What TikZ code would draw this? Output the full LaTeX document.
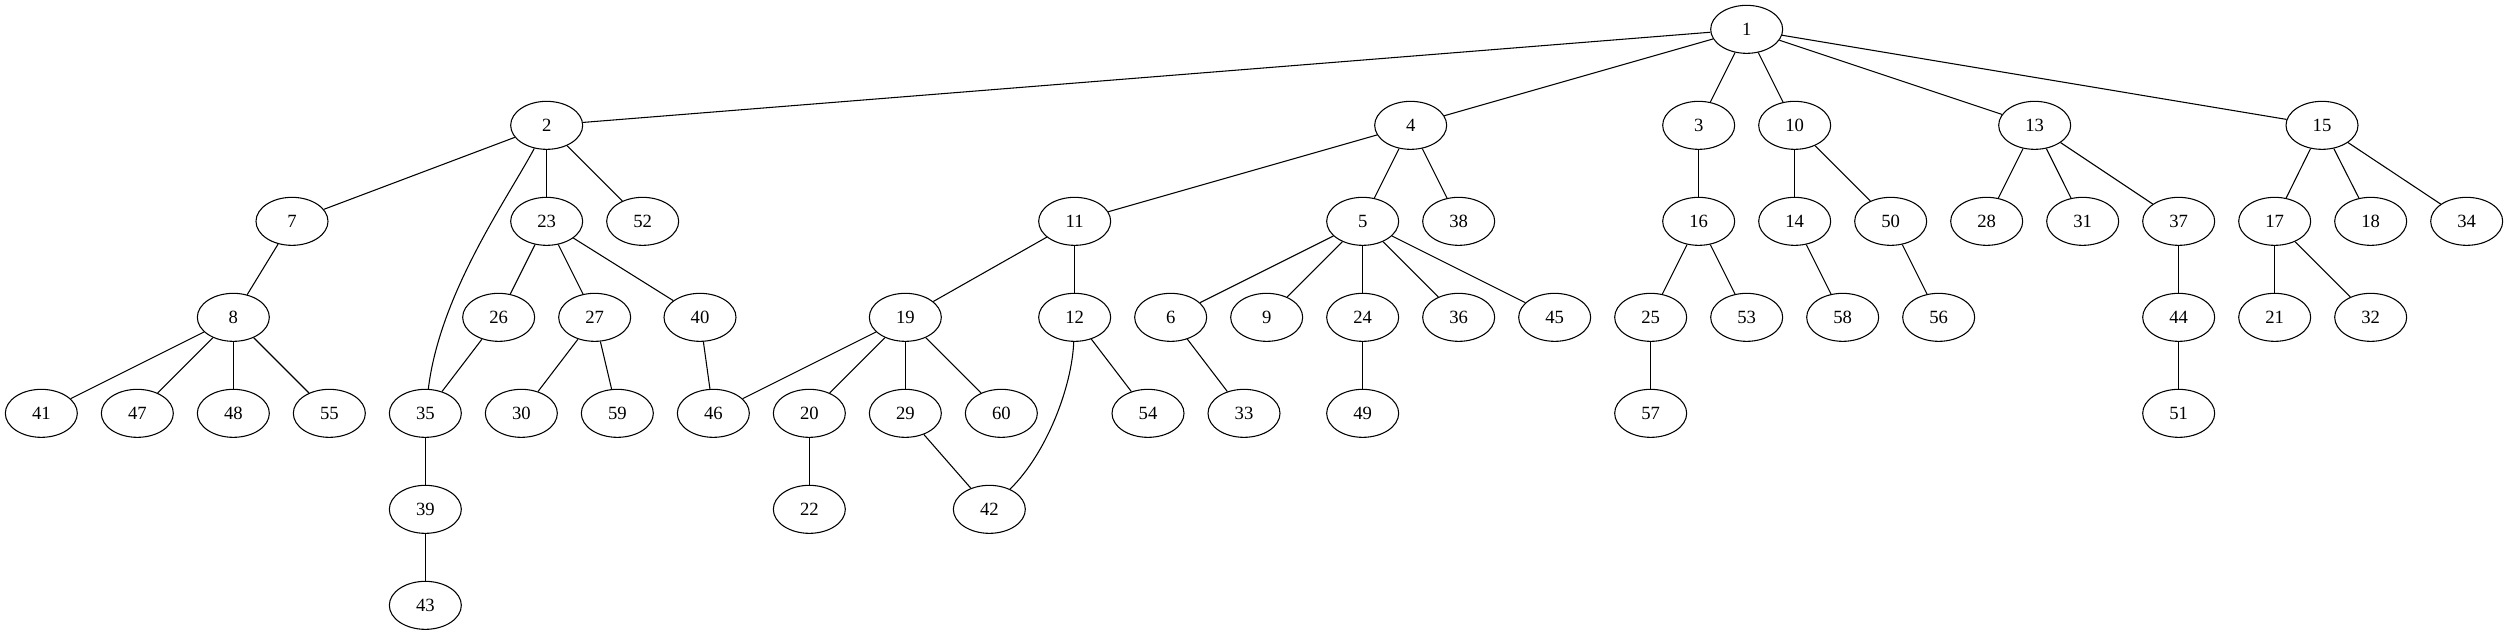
\documentclass[tikz,border=0pt]{standalone}
\usepackage{fontspec}
\setmainfont{Liberation Serif}
\usetikzlibrary{shapes.geometric}
\begin{document}
\begin{tikzpicture}[x=1pt,y=1pt,
  nd/.style={draw, ellipse, minimum width=54pt, minimum height=36pt, inner sep=0pt, line width=0.8pt, font=\fontsize{14}{16}\selectfont},
  ed/.style={line width=0.8pt}]
\useasboundingbox (0,0) rectangle (1881,-476.25);
% row 1
\node[nd] (n1) at (1310,-22) {1};
% row 2
\node[nd] (n2) at (410,-94) {2};
\node[nd] (n4) at (1058,-94) {4};
\node[nd] (n3) at (1274,-94) {3};
\node[nd] (n10) at (1346,-94) {10};
\node[nd] (n13) at (1526,-94) {13};
\node[nd] (n15) at (1741.5,-94) {15};
% row 3
\node[nd] (n7) at (219,-166) {7};
\node[nd] (n23) at (410,-166) {23};
\node[nd] (n52) at (482,-166) {52};
\node[nd] (n11) at (806,-166) {11};
\node[nd] (n5) at (1022,-166) {5};
\node[nd] (n38) at (1094,-166) {38};
\node[nd] (n16) at (1274,-166) {16};
\node[nd] (n14) at (1346,-166) {14};
\node[nd] (n50) at (1418,-166) {50};
\node[nd] (n28) at (1490,-166) {28};
\node[nd] (n31) at (1562,-166) {31};
\node[nd] (n37) at (1634,-166) {37};
\node[nd] (n17) at (1706,-166) {17};
\node[nd] (n18) at (1778,-166) {18};
\node[nd] (n34) at (1850,-166) {34};
% row 4
\node[nd] (n8) at (175,-238) {8};
\node[nd] (n26) at (374,-238) {26};
\node[nd] (n27) at (446,-238) {27};
\node[nd] (n40) at (525,-238) {40};
\node[nd] (n19) at (679,-238) {19};
\node[nd] (n12) at (806,-238) {12};
\node[nd] (n6) at (878,-238) {6};
\node[nd] (n9) at (950,-238) {9};
\node[nd] (n24) at (1022,-238) {24};
\node[nd] (n36) at (1094,-238) {36};
\node[nd] (n45) at (1166,-238) {45};
\node[nd] (n25) at (1238,-238) {25};
\node[nd] (n53) at (1310,-238) {53};
\node[nd] (n58) at (1382,-238) {58};
\node[nd] (n56) at (1454,-238) {56};
\node[nd] (n44) at (1634,-238) {44};
\node[nd] (n21) at (1706,-238) {21};
\node[nd] (n32) at (1778,-238) {32};
% row 5
\node[nd] (n41) at (31,-310) {41};
\node[nd] (n47) at (103,-310) {47};
\node[nd] (n48) at (175,-310) {48};
\node[nd] (n55) at (247,-310) {55};
\node[nd] (n35) at (319,-310) {35};
\node[nd] (n30) at (391,-310) {30};
\node[nd] (n59) at (463,-310) {59};
\node[nd] (n46) at (535,-310) {46};
\node[nd] (n20) at (607,-310) {20};
\node[nd] (n29) at (679,-310) {29};
\node[nd] (n60) at (751,-310) {60};
\node[nd] (n54) at (861,-310) {54};
\node[nd] (n33) at (933,-310) {33};
\node[nd] (n49) at (1022,-310) {49};
\node[nd] (n57) at (1238,-310) {57};
\node[nd] (n51) at (1634,-310) {51};
% row 6
\node[nd] (n39) at (319,-382) {39};
\node[nd] (n22) at (607,-382) {22};
\node[nd] (n42) at (742,-382) {42};
% row 7
\node[nd] (n43) at (319,-454) {43};
% edges
\foreach \a/\b in {1/2,1/4,1/3,1/10,1/13,1/15,
  2/7,2/23,2/52,4/11,4/5,4/38,3/16,10/14,10/50,13/28,13/31,13/37,15/17,15/18,15/34,
  7/8,23/26,23/27,23/40,11/19,11/12,5/6,5/9,5/24,5/36,5/45,16/25,16/53,14/58,50/56,37/44,17/21,17/32,
  8/41,8/47,8/48,8/55,26/35,27/30,27/59,40/46,19/46,19/20,19/29,19/60,12/54,6/33,24/49,25/57,44/51,
  35/39,20/22,29/42,39/43}
  \draw[ed] (n\a) -- (n\b);
\draw[ed] (n2) .. controls (380,-150) and (330,-220) .. (n35);
\draw[ed] (n12) .. controls (804,-290) and (785,-340) .. (n42);
\end{tikzpicture}
\end{document}
